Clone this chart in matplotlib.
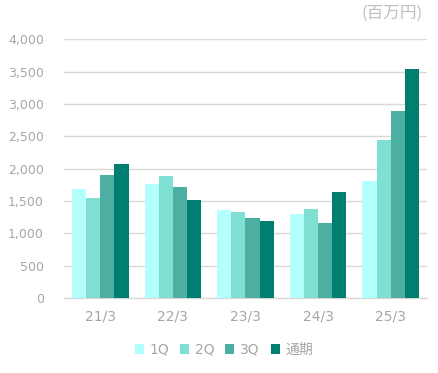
import numpy as np
import matplotlib.pyplot as plt

plt.rcParams['font.family'] = ['DejaVu Sans', 'Noto Sans CJK JP']

# データ（百万円）
years = ['21/3', '22/3', '23/3', '24/3', '25/3']
q1 = [1683, 1761, 1359, 1297, 1807]
q2 = [1544, 1884, 1328, 1374, 2440]
q3 = [1900, 1714, 1236, 1158, 2888]
full = [2069, 1513, 1189, 1637, 3537]
series_names = ['1Q', '2Q', '3Q', '通期']
colors = ['#B3FFFC', '#80DFD3', '#4DAFA1', '#007F70']

text_color = '#A6A6A6'
grid_color = '#D9D9D9'

fig = plt.figure(figsize=(4.38, 3.73), dpi=100)
ax = fig.add_axes([0.146, 0.201, 0.829, 0.694])

x = np.arange(len(years))
w = 0.195
for i, (vals, name, c) in enumerate(zip([q1, q2, q3, full], series_names, colors)):
    ax.bar(x + (i - 1.5) * w, vals, width=w, color=c, label=name, zorder=3)

ax.set_xlim(-0.5, len(years) - 0.5)
ax.set_ylim(0, 4000)
ax.set_yticks(np.arange(0, 4001, 500))
ax.set_yticklabels([f'{v:,}' for v in range(0, 4001, 500)])
ax.set_xticks(x)
ax.set_xticklabels(years)

ax.grid(axis='y', color=grid_color, linewidth=1, zorder=0)
for s in ['top', 'right', 'left']:
    ax.spines[s].set_visible(False)
ax.spines['bottom'].set_color(grid_color)
ax.spines['bottom'].set_linewidth(1)
ax.tick_params(axis='both', length=0, colors=text_color)
ax.tick_params(axis='y', pad=14.4, labelsize=9)
ax.tick_params(axis='x', pad=8, labelsize=10)

fig.text(0.966, 0.965, '(百万円)', ha='right', va='center', fontsize=12,
         color='#BFBFBF', family=['Noto Sans CJK JP', 'DejaVu Sans'])

leg = fig.legend(loc='center', bbox_to_anchor=(0.511, 0.062), ncol=4, frameon=False,
                 handlelength=0.65, handleheight=0.65, handletextpad=0.4,
                 columnspacing=0.8, fontsize=10)
for t in leg.get_texts():
    t.set_color(text_color)

fig.savefig('out.png', dpi=100)
